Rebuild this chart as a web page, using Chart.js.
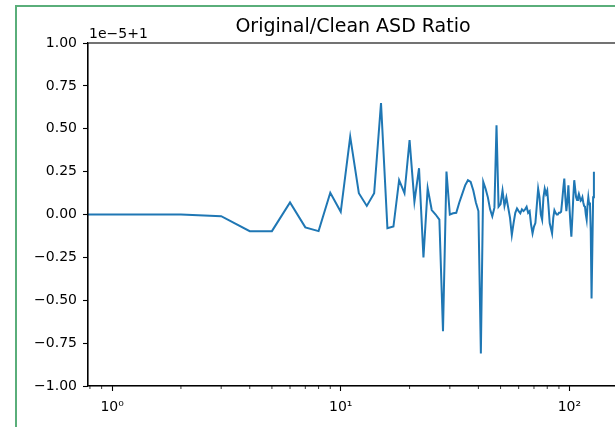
<!DOCTYPE html>
<html><head><meta charset="utf-8">
<script src="https://cdn.jsdelivr.net/npm/chart.js@4"></script>
<style>
html,body{margin:0;padding:0;background:#fff;overflow:hidden;width:615px;height:427px;}
#frame{position:absolute;left:15px;top:5px;width:700px;height:430px;border-left:2px solid #5aae7a;border-top:2px solid #5aae7a;}
#wrap{position:absolute;left:0;top:0;width:706px;height:427px;}
</style></head><body>
<div id="frame"></div>
<div id="wrap"><canvas id="c" width="706" height="427"></canvas></div>
<script>
// Frequencies (0..128) and ratio offsets in units of 1e-5 (plot shows value - 1, scaled by 1e5)
const freqs = [];
for (let f = 0; f <= 128; f++) freqs.push(f);
const ratioOffset = [
  0.0, 0.0, 0.0, -0.01, -0.097, -0.097, 0.07, -0.075, -0.097, 0.127,
  0.016, 0.454, 0.124, 0.05, 0.124, 0.65, -0.08, -0.07, 0.2, 0.124,
  0.434, 0.075, 0.27, -0.25, 0.153, 0.026, 0.0, -0.03, -0.68, 0.25,
  0.0, 0.007, 0.01, 0.07, 0.12, 0.17, 0.2, 0.19, 0.14, 0.07,
  0.02, -0.81, 0.19, 0.15, 0.10, 0.03, -0.01, 0.04, 0.52, 0.045,
  0.06, 0.14, 0.05, 0.1, 0.04, -0.02, -0.12, -0.05, 0.01, 0.035,
  0.02, 0.007, 0.03, 0.02, 0.03, 0.045, 0.01, 0.02, -0.06, -0.11,
  -0.07, -0.05, 0.05, 0.15, 0.1, 0.0, -0.03, 0.1, 0.15, 0.12,
  0.14, 0.05, -0.05, -0.08, -0.11, -0.02, 0.025, 0.01, 0.0, 0.0,
  0.01, 0.01, 0.016, 0.08, 0.15, 0.21, 0.1, 0.02, 0.08, 0.17,
  0.05, -0.05, -0.13, -0.02, 0.1, 0.2, 0.15, 0.1, 0.085, 0.1,
  0.12, 0.1, 0.08, 0.085, 0.1, 0.07, 0.05, 0.045, 0.0, -0.03,
  0.05, 0.1, 0.06, 0.07, -0.1, -0.49, -0.2, 0.1, 0.25
];
const xMajorTicks = [1, 10, 100];
const xMajorLabels = ['10\u2070', '10\u00B9', '10\u00B2'];
const xMinorTicks = [0.8, 0.9, 2, 3, 4, 5, 6, 7, 8, 9, 20, 30, 40, 50, 60, 70, 80, 90];
const yTicks = [-1, -0.75, -0.5, -0.25, 0, 0.25, 0.5, 0.75, 1];
const titleText = 'Original/Clean ASD Ratio';
const offsetText = '1e\u22125+1';

const FONT = 'DejaVu Sans';
const fmt = v => (v < 0 ? '\u2212' : '') + Math.abs(v).toFixed(2);

const decorPlugin = {
  id: 'decor',
  afterDraw(chart) {
    const {ctx, chartArea: a, scales} = chart;
    ctx.save();
    // spines
    ctx.strokeStyle = '#000';
    ctx.lineWidth = 1.1;
    ctx.strokeRect(a.left, a.top, a.right - a.left, a.bottom - a.top);
    // minor x ticks
    ctx.lineWidth = 0.8;
    ctx.beginPath();
    xMinorTicks.forEach(v => {
      const px = scales.x.getPixelForValue(v);
      if (px >= a.left - 0.5 && px <= a.right) {
        ctx.moveTo(px, a.bottom);
        ctx.lineTo(px, a.bottom + 3);
      }
    });
    ctx.stroke();
    // offset text
    ctx.fillStyle = '#000';
    ctx.font = '14px "' + FONT + '"';
    ctx.textAlign = 'left';
    ctx.textBaseline = 'alphabetic';
    ctx.fillText(offsetText, a.left + 1, a.top - 5);
    ctx.restore();
  }
};

new Chart(document.getElementById('c'), {
  type: 'line',
  data: {
    datasets: [{
      data: freqs.map((f, i) => ({x: f, y: ratioOffset[i]})),
      borderColor: '#1f77b4',
      borderWidth: 2,
      pointRadius: 0,
      fill: false,
      tension: 0
    }]
  },
  options: {
    responsive: false,
    animation: false,
    devicePixelRatio: 1,
    layout: {padding: {left: 0, right: 88, top: 0, bottom: 0}},
    plugins: {
      legend: {display: false},
      tooltip: {enabled: false},
      title: {
        display: true,
        fullSize: false,
        text: titleText,
        color: '#000',
        font: {family: FONT, size: 19, weight: 'normal'},
        padding: {top: 16, bottom: 4.2}
      }
    },
    scales: {
      x: {
        type: 'logarithmic',
        min: Math.pow(10, -0.10536),
        max: Math.pow(10, 2.21257),
        afterBuildTicks: s => { s.ticks = xMajorTicks.map(v => ({value: v, major: true})); },
        afterFit: s => { s.height = 41; },
        ticks: {
          autoSkip: false, maxRotation: 0, minRotation: 0,
          color: '#000', padding: 8,
          font: {family: FONT, size: 14},
          callback: v => { const i = xMajorTicks.indexOf(v); return i >= 0 ? xMajorLabels[i] : ''; }
        },
        grid: {display: true, drawOnChartArea: false, drawTicks: true, tickLength: 5, tickColor: '#000', tickWidth: 1.1},
        border: {display: true, color: '#000', width: 1.1}
      },
      y: {
        type: 'linear',
        min: -1, max: 1,
        afterBuildTicks: s => { s.ticks = yTicks.map(v => ({value: v})); },
        afterFit: s => { s.width = 88; },
        ticks: {
          color: '#000', padding: 6,
          font: {family: FONT, size: 14},
          callback: v => fmt(v)
        },
        grid: {display: true, drawOnChartArea: false, drawTicks: true, tickLength: 5, tickColor: '#000', tickWidth: 1.1},
        border: {display: true, color: '#000', width: 1.1}
      }
    }
  },
  plugins: [decorPlugin]
});
</script>
</body></html>
